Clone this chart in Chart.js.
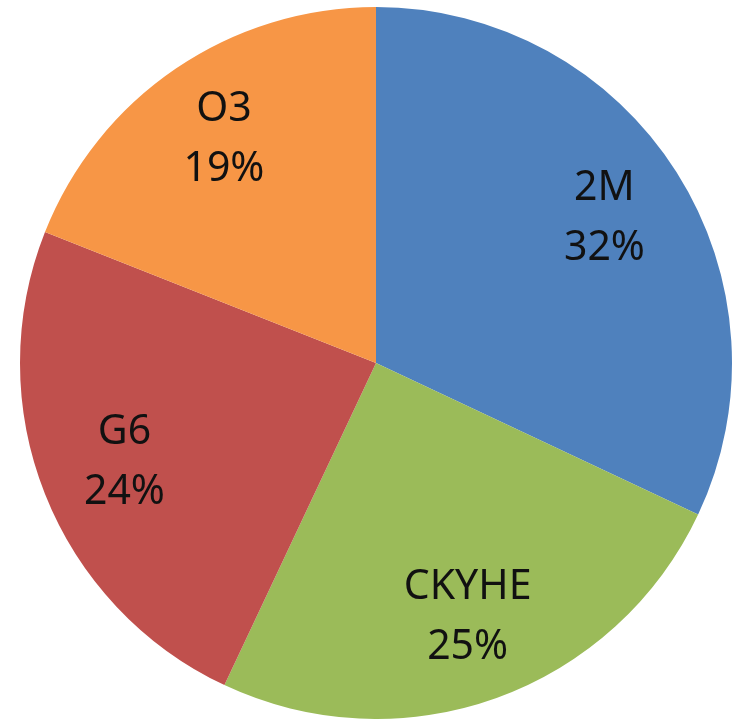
<!DOCTYPE html>
<html>
<head>
<meta charset="utf-8">
<script src="https://cdn.jsdelivr.net/npm/chart.js@4/dist/chart.umd.min.js"></script>
<style>
  html, body { margin: 0; padding: 0; background: #fff; }
  canvas { display: block; }
</style>
</head>
<body>
<canvas id="pieChart" width="738" height="719"></canvas>
<script>
// --- data ---
const categories = ['2M', 'CKYHE', 'G6', 'O3'];
const shares = [32, 25, 24, 19];
const sliceColors = ['#4F81BD', '#9BBB59', '#C0504D', '#F79646'];

// labels inside the slices: name on top, percent below
const sliceLabels = {
    id: 'sliceLabels',
    afterDatasetsDraw(chart) {
        const ctx = chart.ctx;
        const meta = chart.getDatasetMeta(0);
        ctx.save();
        ctx.font = '41px "Noto Sans", sans-serif';
        ctx.fillStyle = '#111';
        ctx.textAlign = 'center';
        ctx.textBaseline = 'middle';
        meta.data.forEach((arc, i) => {
            const mid = (arc.startAngle + arc.endAngle) / 2;
            const r = arc.outerRadius * 0.76;
            const x = arc.x + Math.cos(mid) * r;
            const y = arc.y + Math.sin(mid) * r;
            ctx.fillText(categories[i], x, y - 30);
            ctx.fillText(shares[i] + '%', x, y + 30);
        });
        ctx.restore();
    }
};

new Chart(document.getElementById('pieChart'), {
    type: 'pie',
    data: {
        labels: categories,
        datasets: [{
            data: shares,
            backgroundColor: sliceColors,
            borderWidth: 0
        }]
    },
    options: {
        responsive: false,
        animation: false,
        layout: { padding: { left: 20, right: 6, top: 7, bottom: 0 } },
        plugins: {
            legend: { display: false },
            tooltip: { enabled: false }
        }
    },
    plugins: [sliceLabels]
});
</script>
</body>
</html>
